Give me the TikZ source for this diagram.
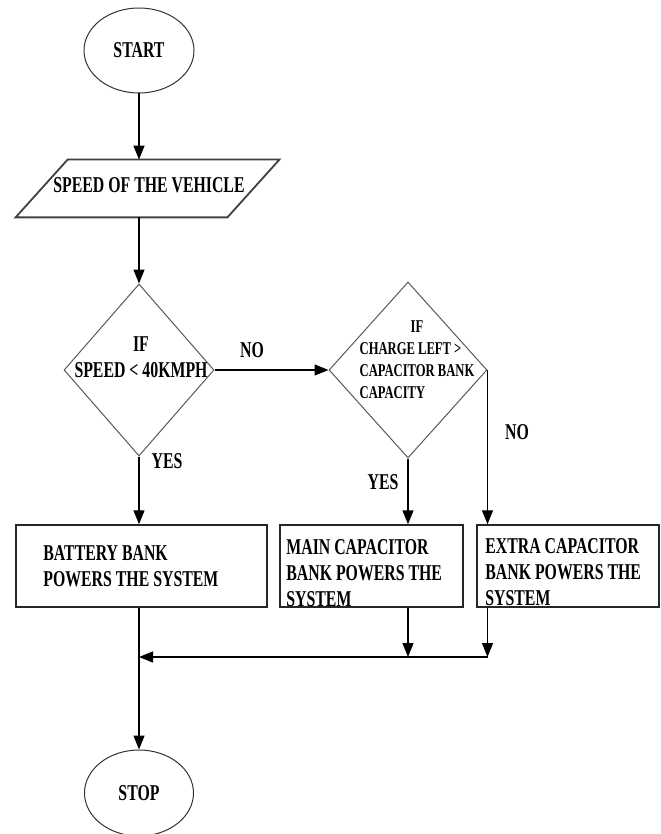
\documentclass[tikz,border=0pt]{standalone}
\usepackage{fontspec}
\setmainfont{Liberation Serif}[FakeStretch=0.7]
\usetikzlibrary{shapes.geometric}
\usetikzlibrary{arrows.meta,calc}
\usetikzlibrary{positioning}
\tikzset{flowline/.style = {line width=0.65pt, -{Triangle[length=7pt,width=5.5pt]}},
         terminal/.style = {ellipse, draw=black!80, line width=0.5pt, inner sep=0pt},
         decision/.style = {diamond, draw=black!65, line width=0.5pt, inner sep=0pt},
         process/.style  = {rectangle, draw=black!85, line width=0.75pt, inner sep=0pt,
                            minimum height=41pt},
         boxtext/.style  = {anchor=west, align=left, inner sep=0pt}}

\begin{document}
\begin{tikzpicture}[x=0.5pt, y=-0.5pt, font=\bfseries\fontsize{11.3}{13}\selectfont]
  \useasboundingbox (0,0) rectangle (660,834);
  \node [terminal, minimum width=55pt, minimum height=42.5pt] (start) at (139,50.5) {START};
  \node [inner sep=0pt, minimum width=105.5pt, minimum height=28.5pt] (speed) at (147.5,188.5) {};
  \draw [draw=black!75, line width=0.9pt]
        ($(speed.north west)+(26,0)$) -- ($(speed.north east)+(26,0)$) --
        ($(speed.south east)-(26,0)$) -- ($(speed.south west)-(26,0)$) -- cycle;
  \node (speedtext) at (149,185) {SPEED OF THE VEHICLE};

  \node [decision, minimum width=75pt, minimum height=86pt] (ifspeed) at (139,370) {};
  \node [align=center, inner sep=0pt] (ifspeedtext) at (141,357.5) {IF\\SPEED < 40KMPH};
  \node [decision, minimum width=79pt, minimum height=88pt] (ifcharge) at (408,370) {};
  \node [inner sep=0pt, font=\bfseries\fontsize{9}{11}\selectfont] (ifchargetext) at (417,361)
        {\begin{tabular}{@{}l@{}}\multicolumn{1}{@{}c@{}}{IF}\\CHARGE LEFT >\\CAPACITOR BANK\\CAPACITY\end{tabular}};

  \node [process, minimum width=125.5pt] (battery)  at (141.5,566) {};
  \node [process, minimum width=91.5pt]  (maincap)  at (371.5,566) {};
  \node [process, minimum width=91pt]    (extracap) at (568,566) {};
  \node [boxtext] (batterytext) at (43,566) {BATTERY BANK\\POWERS THE SYSTEM};
  \begin{scope}
    \clip (maincap.south west) rectangle (extracap.north east);
    \node [boxtext] (maintext)  at (286,573.5) {MAIN CAPACITOR\\BANK POWERS THE\\SYSTEM};
    \node [boxtext] (extratext) at (485,572) {EXTRA CAPACITOR\\BANK POWERS THE\\SYSTEM};
  \end{scope}

  \node [terminal, minimum width=54.5pt, minimum height=43pt] (stop) at (139,793) {STOP};

  \node (no1)  at (252,350) {NO};
  \node (yes1) at (167,461) {YES};
  \node (yes2) at (383,482) {YES};
  \node (no2)  at (517,432) {NO};

  \coordinate (merge) at (139,657);
  \draw [flowline] (start) -- (start |- speed.north);
  \draw [flowline] (ifspeed.north |- speed.south) -- (ifspeed.north);
  \draw [flowline] (ifspeed.east) -- (ifcharge.west);
  \draw [flowline] (ifspeed.south) -- (ifspeed.south |- battery.north);
  \draw [flowline] (ifcharge.south) -- (ifcharge.south |- maincap.north);
  \draw [flowline] (ifcharge.east) -- (ifcharge.east |- extracap.north);
  \draw [flowline] (ifcharge.south |- maincap.south) -- (ifcharge.south |- merge);
  \draw [flowline] (ifcharge.east |- extracap.south) -- (ifcharge.east |- merge);
  \draw [flowline] (ifcharge.east |- merge) -- (merge);
  \draw [flowline] (battery.south -| merge) -- (stop);
\end{tikzpicture}
\end{document}
